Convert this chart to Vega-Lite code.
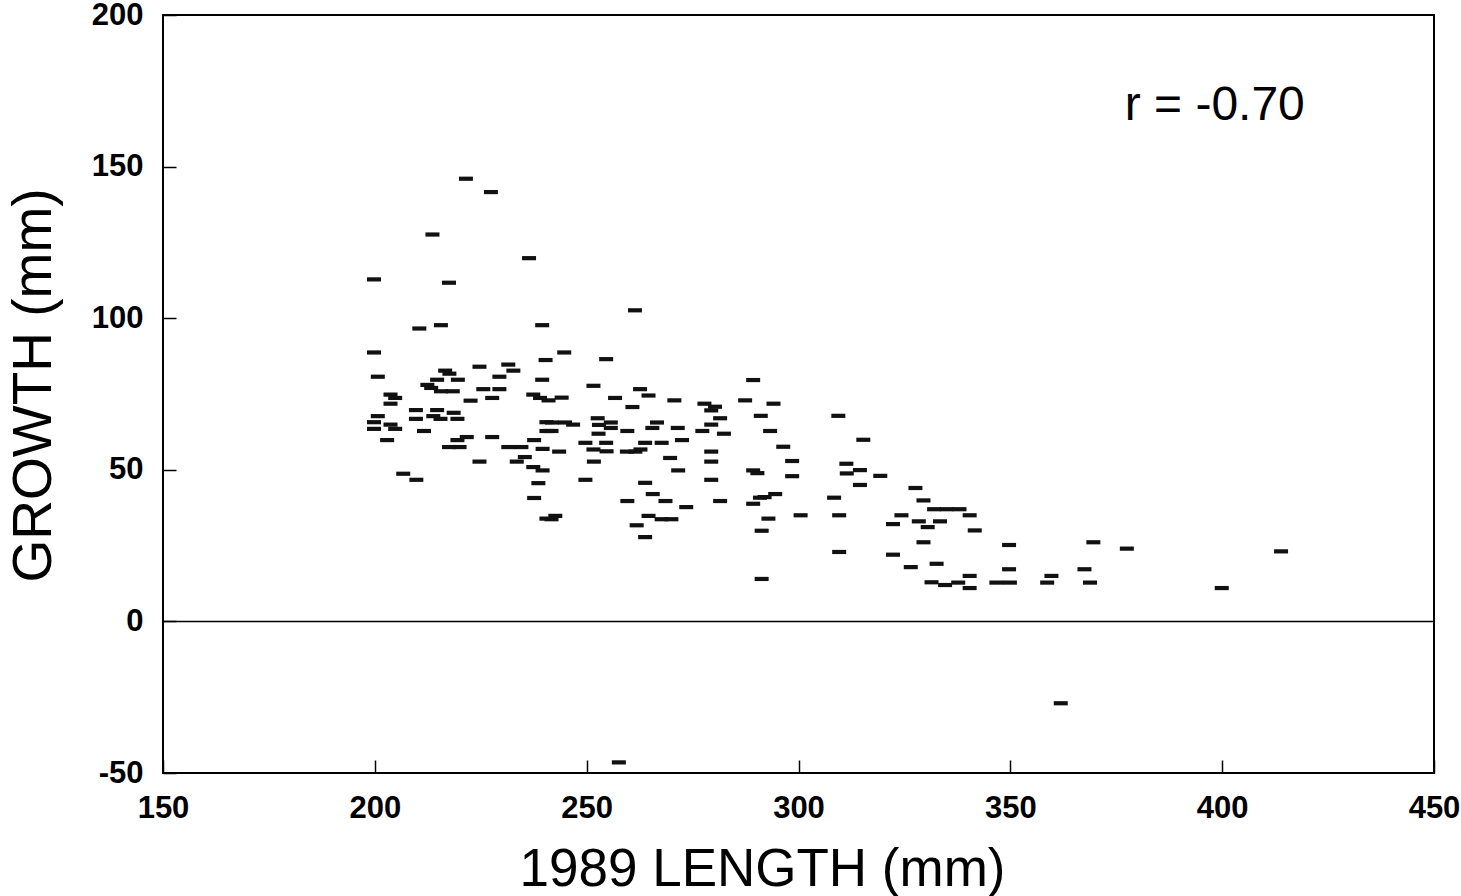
{
  "$schema": "https://vega.github.io/schema/vega-lite/v6.json",
  "width": 1271,
  "height": 758,
  "autosize": "none",
  "padding": {"left": 163, "top": 15, "right": 27, "bottom": 123},
  "background": "white",
  "config": {
    "view": {"stroke": "black", "strokeWidth": 2},
    "axis": {
      "domain": false,
      "grid": false,
      "ticks": true,
      "tickSize": -13,
      "tickColor": "black",
      "tickWidth": 1.5,
      "labelPadding": 33,
      "labelFont": "Liberation Sans",
      "labelFontSize": 31,
      "labelFontWeight": "bold",
      "labelColor": "black",
      "labelFlush": false,
      "labelOverlap": false,
      "labelExpr": "'' + datum.value",
      "titleFont": "Liberation Sans",
      "titleFontWeight": "normal",
      "titleColor": "black"
    }
  },
  "data": {
    "values": [
      {"length": 221.5, "growth": 146.0},
      {"length": 227.4, "growth": 141.6},
      {"length": 213.6, "growth": 127.6},
      {"length": 236.4, "growth": 119.8},
      {"length": 199.8, "growth": 112.8},
      {"length": 217.5, "growth": 111.7},
      {"length": 210.5, "growth": 96.6},
      {"length": 215.6, "growth": 97.7},
      {"length": 239.5, "growth": 97.7},
      {"length": 199.8, "growth": 88.7},
      {"length": 240.3, "growth": 86.2},
      {"length": 261.4, "growth": 102.6},
      {"length": 200.7, "growth": 80.7},
      {"length": 224.7, "growth": 84.0},
      {"length": 231.5, "growth": 84.7},
      {"length": 232.7, "growth": 82.7},
      {"length": 216.6, "growth": 82.7},
      {"length": 217.6, "growth": 81.7},
      {"length": 214.7, "growth": 79.7},
      {"length": 219.6, "growth": 79.7},
      {"length": 229.4, "growth": 80.7},
      {"length": 239.5, "growth": 79.7},
      {"length": 212.4, "growth": 78.0},
      {"length": 213.3, "growth": 77.0},
      {"length": 215.6, "growth": 75.9},
      {"length": 218.4, "growth": 75.9},
      {"length": 225.6, "growth": 76.6},
      {"length": 229.4, "growth": 76.6},
      {"length": 222.6, "growth": 72.8},
      {"length": 227.7, "growth": 73.7},
      {"length": 203.7, "growth": 74.8},
      {"length": 204.8, "growth": 73.7},
      {"length": 203.7, "growth": 71.8},
      {"length": 237.4, "growth": 74.8},
      {"length": 239.0, "growth": 73.7},
      {"length": 200.7, "growth": 67.7},
      {"length": 209.7, "growth": 69.7},
      {"length": 214.7, "growth": 69.7},
      {"length": 218.6, "growth": 68.8},
      {"length": 213.8, "growth": 67.7},
      {"length": 215.5, "growth": 66.8},
      {"length": 219.5, "growth": 66.8},
      {"length": 209.7, "growth": 66.8},
      {"length": 199.8, "growth": 65.7},
      {"length": 199.8, "growth": 63.5},
      {"length": 203.7, "growth": 64.9},
      {"length": 204.8, "growth": 63.5},
      {"length": 211.6, "growth": 62.8},
      {"length": 202.9, "growth": 59.8},
      {"length": 221.7, "growth": 60.8},
      {"length": 219.5, "growth": 59.8},
      {"length": 227.7, "growth": 60.8},
      {"length": 217.5, "growth": 57.5},
      {"length": 220.0, "growth": 57.5},
      {"length": 231.5, "growth": 57.5},
      {"length": 234.6, "growth": 57.5},
      {"length": 237.6, "growth": 59.8},
      {"length": 240.5, "growth": 65.7},
      {"length": 240.5, "growth": 62.8},
      {"length": 239.6, "growth": 56.9},
      {"length": 224.7, "growth": 52.7},
      {"length": 233.5, "growth": 52.7},
      {"length": 235.4, "growth": 54.2},
      {"length": 237.4, "growth": 50.9},
      {"length": 239.6, "growth": 49.8},
      {"length": 206.7, "growth": 48.7},
      {"length": 209.8, "growth": 46.7},
      {"length": 238.6, "growth": 45.6},
      {"length": 237.6, "growth": 40.7},
      {"length": 240.5, "growth": 33.9},
      {"length": 244.7, "growth": 88.7},
      {"length": 254.6, "growth": 86.5},
      {"length": 251.6, "growth": 77.7},
      {"length": 289.3, "growth": 79.6},
      {"length": 262.6, "growth": 76.6},
      {"length": 264.6, "growth": 74.5},
      {"length": 256.7, "growth": 73.7},
      {"length": 270.7, "growth": 72.9},
      {"length": 260.8, "growth": 70.7},
      {"length": 244.1, "growth": 73.8},
      {"length": 241.0, "growth": 72.9},
      {"length": 277.8, "growth": 71.8},
      {"length": 280.3, "growth": 70.8},
      {"length": 279.4, "growth": 69.6},
      {"length": 287.4, "growth": 72.9},
      {"length": 294.1, "growth": 71.8},
      {"length": 291.1, "growth": 67.8},
      {"length": 281.5, "growth": 67.0},
      {"length": 279.4, "growth": 64.9},
      {"length": 277.3, "growth": 62.8},
      {"length": 282.4, "growth": 61.9},
      {"length": 293.3, "growth": 62.8},
      {"length": 241.8, "growth": 65.6},
      {"length": 244.9, "growth": 65.6},
      {"length": 246.8, "growth": 64.9},
      {"length": 241.7, "growth": 62.8},
      {"length": 252.6, "growth": 67.0},
      {"length": 255.7, "growth": 65.6},
      {"length": 252.9, "growth": 64.8},
      {"length": 255.7, "growth": 63.8},
      {"length": 252.8, "growth": 61.9},
      {"length": 259.6, "growth": 62.8},
      {"length": 266.6, "growth": 65.6},
      {"length": 265.5, "growth": 63.8},
      {"length": 271.5, "growth": 63.8},
      {"length": 249.7, "growth": 58.9},
      {"length": 254.6, "growth": 58.9},
      {"length": 263.8, "growth": 58.9},
      {"length": 267.7, "growth": 58.9},
      {"length": 272.5, "growth": 59.8},
      {"length": 251.6, "growth": 56.7},
      {"length": 254.7, "growth": 56.1},
      {"length": 259.5, "growth": 56.0},
      {"length": 261.5, "growth": 56.0},
      {"length": 262.7, "growth": 56.7},
      {"length": 243.5, "growth": 56.0},
      {"length": 251.7, "growth": 52.7},
      {"length": 279.4, "growth": 56.0},
      {"length": 279.4, "growth": 52.7},
      {"length": 269.7, "growth": 53.9},
      {"length": 271.6, "growth": 49.8},
      {"length": 279.4, "growth": 46.7},
      {"length": 289.3, "growth": 49.8},
      {"length": 290.3, "growth": 48.9},
      {"length": 249.7, "growth": 46.7},
      {"length": 263.8, "growth": 45.7},
      {"length": 265.6, "growth": 42.0},
      {"length": 259.6, "growth": 39.7},
      {"length": 268.6, "growth": 39.7},
      {"length": 273.5, "growth": 37.7},
      {"length": 281.5, "growth": 39.7},
      {"length": 290.9, "growth": 40.8},
      {"length": 292.0, "growth": 41.0},
      {"length": 294.5, "growth": 42.0},
      {"length": 289.3, "growth": 38.8},
      {"length": 242.6, "growth": 34.8},
      {"length": 241.7, "growth": 33.7},
      {"length": 264.6, "growth": 34.8},
      {"length": 267.7, "growth": 33.7},
      {"length": 270.0, "growth": 33.7},
      {"length": 261.8, "growth": 31.7},
      {"length": 263.8, "growth": 27.8},
      {"length": 292.9, "growth": 33.9},
      {"length": 291.3, "growth": 29.9},
      {"length": 309.4, "growth": 67.8},
      {"length": 296.4, "growth": 57.6},
      {"length": 315.3, "growth": 59.9},
      {"length": 298.5, "growth": 52.9},
      {"length": 311.3, "growth": 52.0},
      {"length": 314.5, "growth": 49.9},
      {"length": 311.4, "growth": 48.8},
      {"length": 298.5, "growth": 47.9},
      {"length": 319.3, "growth": 48.0},
      {"length": 314.5, "growth": 45.0},
      {"length": 327.6, "growth": 44.0},
      {"length": 329.5, "growth": 39.9},
      {"length": 332.0, "growth": 37.0},
      {"length": 335.0, "growth": 37.0},
      {"length": 338.0, "growth": 37.0},
      {"length": 308.4, "growth": 40.8},
      {"length": 300.5, "growth": 35.0},
      {"length": 309.6, "growth": 35.0},
      {"length": 324.3, "growth": 35.0},
      {"length": 322.3, "growth": 32.1},
      {"length": 328.4, "growth": 33.0},
      {"length": 333.4, "growth": 33.0},
      {"length": 330.5, "growth": 31.1},
      {"length": 329.5, "growth": 26.1},
      {"length": 309.6, "growth": 22.9},
      {"length": 322.3, "growth": 22.0},
      {"length": 332.6, "growth": 19.0},
      {"length": 326.5, "growth": 17.9},
      {"length": 291.3, "growth": 14.0},
      {"length": 331.4, "growth": 12.9},
      {"length": 334.6, "growth": 12.0},
      {"length": 340.4, "growth": 35.0},
      {"length": 341.6, "growth": 30.0},
      {"length": 349.7, "growth": 25.2},
      {"length": 369.6, "growth": 26.1},
      {"length": 340.4, "growth": 15.0},
      {"length": 349.7, "growth": 17.2},
      {"length": 359.7, "growth": 15.0},
      {"length": 367.5, "growth": 17.2},
      {"length": 337.7, "growth": 12.8},
      {"length": 340.4, "growth": 11.0},
      {"length": 346.7, "growth": 12.8},
      {"length": 349.9, "growth": 12.8},
      {"length": 358.7, "growth": 12.8},
      {"length": 368.8, "growth": 12.8},
      {"length": 377.5, "growth": 24.0},
      {"length": 413.9, "growth": 23.1},
      {"length": 399.9, "growth": 11.0},
      {"length": 361.9, "growth": -27.0},
      {"length": 257.6, "growth": -46.5}
    ]
  },
  "layer": [
    {
      "data": {"values": [{"zero": 0}]},
      "mark": {"type": "rule", "color": "black", "strokeWidth": 1.5},
      "encoding": {"y": {"field": "zero", "type": "quantitative", "scale": {"domain": [-50, 200], "nice": false, "zero": false}}}
    },
    {
      "mark": {"type": "point", "shape": "M-1,-0.3H1V0.3H-1Z", "size": 196, "filled": true, "color": "#111111", "opacity": 1},
      "encoding": {
        "x": {
          "field": "length",
          "type": "quantitative",
          "scale": {"domain": [150, 450], "nice": false, "zero": false},
          "axis": {
            "values": [150, 200, 250, 300, 350, 400, 450],
            "title": "1989 LENGTH (mm)",
            "titleFontSize": 53,
            "titleX": 599,
            "titleY": 112,
            "titleAlign": "center",
            "titleBaseline": "alphabetic",
            "titleAnchor": null
          }
        },
        "y": {
          "field": "growth",
          "type": "quantitative",
          "scale": {"domain": [-50, 200], "nice": false, "zero": false},
          "axis": {
            "values": [-50, 0, 50, 100, 150, 200],
            "title": "GROWTH (mm)",
            "titleFontSize": 55,
            "titleX": -113,
            "titleY": 370,
            "titleAngle": 270,
            "titleAlign": "center",
            "titleBaseline": "alphabetic"
          }
        }
      }
    },
    {
      "data": {"values": [{"length": 377, "growth": 170, "label": "r = -0.70"}]},
      "mark": {"type": "text", "align": "left", "baseline": "middle", "fontSize": 48, "font": "Liberation Sans", "color": "black"},
      "encoding": {
        "x": {"field": "length", "type": "quantitative"},
        "y": {"field": "growth", "type": "quantitative"},
        "text": {"field": "label"}
      }
    }
  ]
}
